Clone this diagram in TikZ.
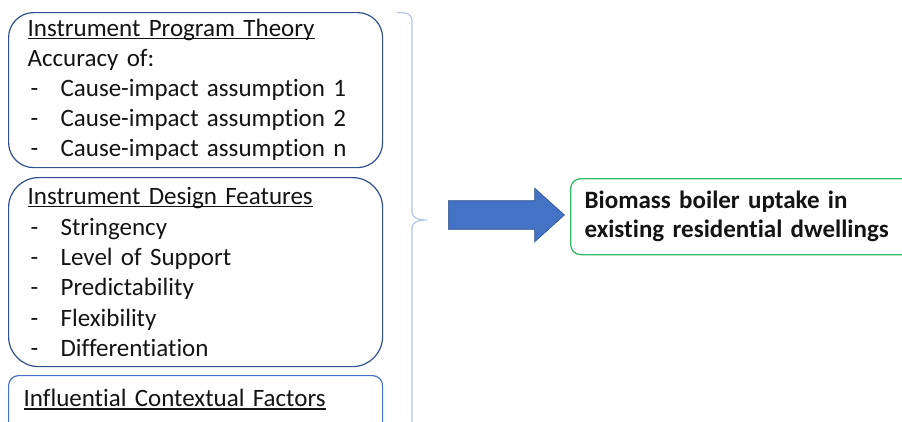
\documentclass[tikz,border=0pt]{standalone}
\usepackage{fontspec}
\setmainfont{Carlito}[Ligatures=NoCommon]
\usepackage{xcolor}
\usetikzlibrary{shapes.arrows, positioning}
\definecolor{colBoxDark} {RGB}{ 47,  82, 143}
\definecolor{colBoxMid}  {RGB}{ 68, 114, 196}
\definecolor{colBrace}   {RGB}{180, 199, 231}
\definecolor{colArrow}   {RGB}{ 68, 114, 196}
\definecolor{colGreen}   {RGB}{ 50, 185, 100}
\definecolor{colText}    {RGB}{ 20,  20,  20}
\newcommand{\headline}[1]{\setbox0\hbox{#1}\rlap{\rule[-2.6pt]{\wd0}{1.2pt}}\box0}
\newcommand{\dashitem}[1]{\hspace*{3pt}\makebox[30pt][l]{-}#1}
\tikzset{
  infobox/.style={
    rectangle, rounded corners=#1,
    draw=colBoxDark, line width=1.2pt, text=colText,
    font=\fontsize{25}{30}\selectfont,
    anchor=north west, align=left,
    text width=336pt, inner xsep=19pt, inner ysep=0pt
  },
  resultbox/.style={
    rectangle, rounded corners=10pt,
    draw=colGreen, line width=1.3pt, text=colText,
    font=\fontsize{25}{29}\selectfont\bfseries,
    anchor=north west, align=left,
    text width=360pt, inner xsep=14pt, inner ysep=0pt,
    minimum height=76pt
  },
  bigarrow/.style={
    single arrow, draw=colBoxDark, line width=0.6pt, fill=colArrow,
    minimum height=116pt, minimum width=53pt,
    inner xsep=0pt, inner ysep=14pt,
    single arrow head extend=12.5pt, single arrow tip angle=84
  },
  bracepath/.style={
    draw=colBrace, line width=1.2pt
  },
}
\begin{document}
\begin{tikzpicture}[x=1pt, y=-1pt]
\clip (0,0) rectangle (902,421);
\fill[white] (0,0) rectangle (902,421);

%% ══════════════════════════════════════════════════════════════
%%  LEFT COLUMN  (three stacked boxes)
%% ══════════════════════════════════════════════════════════════

% 1. program theory
\node[infobox=25pt, minimum height=155pt] (theory) at (8,12)
  {\headline{Instrument Program Theory}\\
   Accuracy of:\\
   \dashitem{Cause-impact assumption 1}\\
   \dashitem{Cause-impact assumption 2}\\
   \dashitem{Cause-impact assumption n}};

% 2. design features
\node[infobox=30pt, minimum height=189pt,
      font=\fontsize{25}{30.4}\selectfont] (design) at (8,177)
  {\headline{Instrument Design Features}\\
   \dashitem{Stringency}\\
   \dashitem{Level of Support}\\
   \dashitem{Predictability}\\
   \dashitem{Flexibility}\\
   \dashitem{Differentiation}};

% 3. contextual factors (runs off the page)
\node[infobox=10pt, draw=colBoxMid, text width=344pt,
      inner xsep=15pt, inner ysep=14pt,
      text depth=40pt] (context) at (8,375)
  {\headline{Influential Contextual Factors}};

%% ══════════════════════════════════════════════════════════════
%%  BRACE, ARROW AND RESULT
%% ══════════════════════════════════════════════════════════════
\draw[bracepath] (397,12.5) .. controls (408,12.5) and (412,14) .. (412,22)
  -- (412,212) .. controls (412,218) and (418,220) .. (427,220)
  .. controls (418,220) and (412,222) .. (412,228) -- (412,430);

\node[bigarrow] (push) at (498.5,215) {};

\node[resultbox] (uptake) at (570,178)
  {Biomass boiler uptake in\\existing residential dwellings};

\end{tikzpicture}
\end{document}
